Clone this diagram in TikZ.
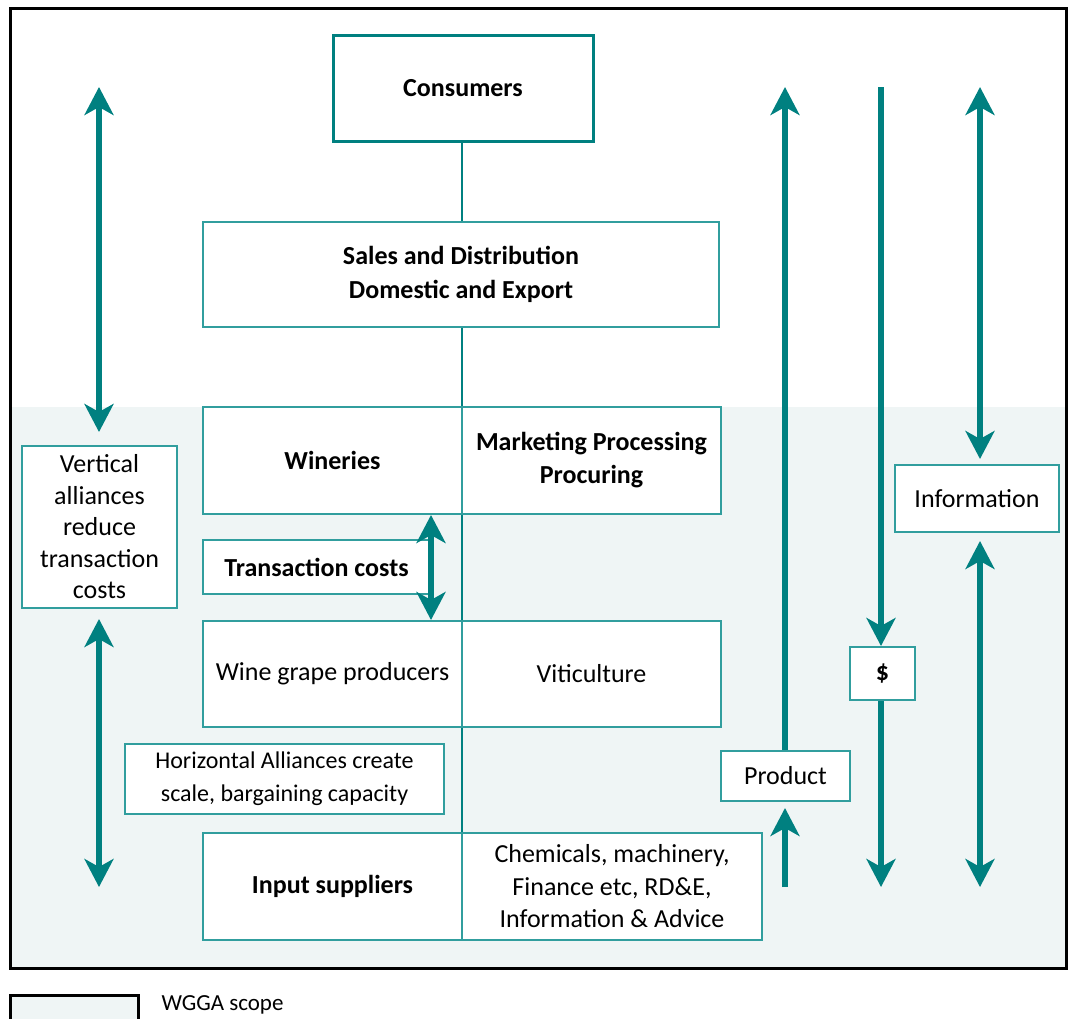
\documentclass[tikz,border=0pt]{standalone}
\usepackage{fontspec}
\setmainfont{Carlito}
\usetikzlibrary{arrows.meta}
\definecolor{tealA}{RGB}{0,128,128}
\definecolor{tealB}{RGB}{49,158,158}
\definecolor{scopefill}{RGB}{239,245,245}
\tikzset{
 box/.style={draw=tealB, line width=2pt, fill=white, align=center, inner sep=0pt, font=\fontsize{26}{32}\selectfont},
 bbox/.style={box, font=\fontsize{26}{32}\selectfont\bfseries},
 link/.style={draw=tealA, line width=2.2pt},
 flow/.style={draw=tealA, line width=6pt, -{Stealth[length=28pt,width=29pt,inset=8pt]}},
 flowtwo/.style={draw=tealA, line width=6pt, {Stealth[length=28pt,width=29pt,inset=8pt]}-{Stealth[length=28pt,width=29pt,inset=8pt]}},
}
\begin{document}
\begin{tikzpicture}[x=1pt,y=-1pt]
\useasboundingbox (0,0) rectangle (1068,1018);
% WGGA scope shading and frame
\fill[scopefill] (12,407) rectangle (1066,968);
\draw[line width=3pt] (10,8) rectangle (1066,968);
% legend
\fill[scopefill] (10,995) rectangle (138,1030);
\draw[line width=3pt] (10,995) rectangle (138,1030);
\node[anchor=west, font=\fontsize{23}{28}\selectfont] (leg) at (158,1005) {WGGA scope};

% boxes
\node[bbox, draw=tealA, line width=3pt, minimum width=260pt, minimum height=106pt] (cons) at (463,88) {Consumers};
\node[bbox, minimum width=516pt, minimum height=105pt, font=\fontsize{26}{34}\selectfont\bfseries] (sales) at (461,274.5) {Sales and Distribution\\Domestic and Export};
\node[bbox, minimum width=259pt, minimum height=107pt] (win) at (332.5,460.5) {Wineries};
\node[bbox, minimum width=259pt, minimum height=107pt, font=\fontsize{26}{33}\selectfont\bfseries] (mkt) at (591.5,460.5) {Marketing Processing\\Procuring};
\node[bbox, minimum width=227pt, minimum height=54pt] (tc) at (316.5,567) {Transaction costs};
\node[box, minimum width=259pt, minimum height=106pt] (wgp) at (332.5,674) {Wine grape producers};
\node[box, minimum width=259pt, minimum height=106pt] (vit) at (591.5,674) {Viticulture};
\node[box, minimum width=319pt, minimum height=70pt, font=\fontsize{24}{33}\selectfont] (hor) at (284.5,779) {Horizontal Alliances create\\scale, bargaining capacity};
\node[bbox, minimum width=259pt, minimum height=107pt] (inp) at (332.5,886.5) {Input suppliers};
\node[box, minimum width=300pt, minimum height=107pt, font=\fontsize{26}{32.5}\selectfont] (chem) at (612,886.5) {Chemicals, machinery,\\Finance etc, RD\&E,\\Information \& Advice};
\node[box, minimum width=155pt, minimum height=162pt, font=\fontsize{26}{31.5}\selectfont] (vert) at (99.5,527) {Vertical\\alliances\\reduce\\transaction\\costs};
\node[box, minimum width=129pt, minimum height=50pt] (prod) at (785.5,776) {Product};
\node[bbox, minimum width=65pt, minimum height=53pt] (dol) at (882.5,673.5) {\$};
\node[box, minimum width=164pt, minimum height=67pt] (info) at (977,498.5) {Information};

% central chain
\coordinate (mx) at (462,0);
\draw[link] (cons.south -| mx) -- (sales.north -| mx);
\draw[link] (sales.south -| mx) -- (win.north -| mx);
\draw[link] (win.south -| mx) -- (wgp.north -| mx);
\draw[link] (wgp.south -| mx) -- (inp.north -| mx);

% free ends
\coordinate (ltop) at (99,87);
\coordinate (lbot) at (99,887);
\coordinate (tcx) at (431,0);
\coordinate (ptop) at (785,87);
\coordinate (pbot) at (785,887);
\coordinate (dtop) at (881,87);
\coordinate (dbot) at (881,887);
\coordinate (itop) at (980,87);
\coordinate (ibot) at (980,887);

% arrows
\draw[flowtwo, shorten >=13pt] (ltop) -- (vert.north -| ltop);
\draw[flowtwo, shorten <=10pt] (vert.south -| lbot) -- (lbot);
\draw[flowtwo] (win.south -| tcx) -- (wgp.north -| tcx);
\draw[flow] (prod.north -| ptop) -- (ptop);
\draw[flow, shorten >=6pt] (pbot) -- (prod.south -| pbot);
\draw[flow] (dtop) -- (dol.north -| dtop);
\draw[flow] (dol.south -| dbot) -- (dbot);
\draw[flowtwo, shorten >=5pt] (itop) -- (info.north -| itop);
\draw[flowtwo, shorten <=8pt] (info.south -| ibot) -- (ibot);
\end{tikzpicture}
\end{document}
